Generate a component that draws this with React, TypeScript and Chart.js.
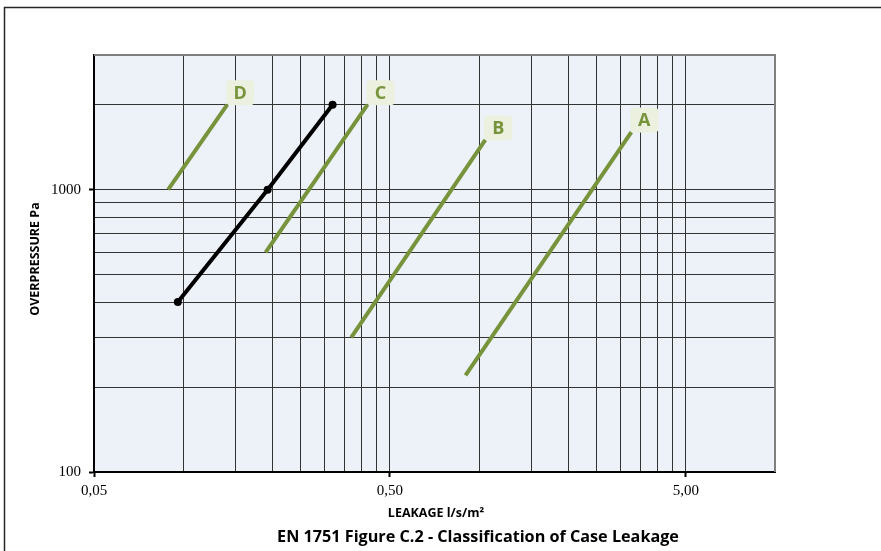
import React, { useEffect, useRef } from 'react';
import { Chart, registerables } from 'chart.js';

Chart.register(...registerables);

// ---- data ----
const classNames = ['A', 'B', 'C', 'D'];
const classALeakage = [0.9, 3.27];
const classAPressure = [220, 1600];
const classBLeakage = [0.37, 1.05];
const classBPressure = [300, 1500];
const classCLeakage = [0.19, 0.42];
const classCPressure = [600, 2000];
const classDLeakage = [0.089, 0.141];
const classDPressure = [1000, 2000];
const measuredLeakage = [0.096, 0.193, 0.32];
const measuredPressure = [400, 1000, 2000];

const xGridValues = [0.05, 0.1, 0.15, 0.2, 0.25, 0.3, 0.35, 0.4, 0.45, 0.5, 1, 1.5, 2, 2.5, 3, 3.5, 4, 4.5, 5, 10];
const xTickValues = [0.05, 0.5, 5];
const xTickLabels = ['0,05', '0,50', '5,00'];
const yGridValues = [100, 200, 300, 400, 500, 600, 700, 800, 900, 1000, 2000, 3000];
const yTickValues = [100, 1000];
const yTickLabels = ['100', '1000'];

const xTitle = 'LEAKAGE l/s/m²';
const yTitle = 'OVERPRESSURE Pa';
const chartTitle = 'EN 1751 Figure C.2 - Classification of Case Leakage';

const GREEN = '#77933C';
const SANS = '"Open Sans", "Noto Sans", sans-serif';
const SERIF = '"Liberation Serif", "Times New Roman", serif';

const toPoints = (xs: number[], ys: number[]) => xs.map((x, i) => ({ x, y: ys[i] }));

export default function App() {
  const ref = useRef<HTMLCanvasElement | null>(null);

  useEffect(() => {
    document.body.style.margin = '0';
    const canvas = ref.current;
    if (!canvas) return;

    const classSeries = [
      toPoints(classALeakage, classAPressure),
      toPoints(classBLeakage, classBPressure),
      toPoints(classCLeakage, classCPressure),
      toPoints(classDLeakage, classDPressure),
    ];

    const decorPlugin = {
      id: 'decor',
      beforeDraw(chart: any) {
        const { ctx, chartArea: a } = chart;
        ctx.save();
        ctx.fillStyle = '#ffffff';
        ctx.fillRect(0, 0, chart.width, chart.height);
        ctx.fillStyle = '#EDF1F8';
        ctx.fillRect(a.left, a.top, a.right - a.left, a.bottom - a.top);
        ctx.restore();
      },
      afterDraw(chart: any) {
        const { ctx, chartArea: a } = chart;
        ctx.save();
        // top & right plot border
        ctx.strokeStyle = '#7f7f7f';
        ctx.lineWidth = 2;
        ctx.beginPath();
        ctx.moveTo(a.left, a.top);
        ctx.lineTo(a.right, a.top);
        ctx.lineTo(a.right, a.bottom);
        ctx.stroke();
        // outer frame (only top & left visible)
        ctx.strokeStyle = '#262626';
        ctx.lineWidth = 1.5;
        ctx.beginPath();
        ctx.moveTo(4.5, chart.height);
        ctx.lineTo(4.5, 7.5);
        ctx.lineTo(chart.width, 7.5);
        ctx.stroke();

        // class labels
        for (let i = 0; i < classNames.length; i++) {
          const meta = chart.getDatasetMeta(i);
          const pt = meta.data[meta.data.length - 1];
          const cx = pt.x + 13;
          const cy = pt.y - 12;
          const w = 28;
          const h = 25;
          ctx.fillStyle = '#EBF1DE';
          ctx.beginPath();
          (ctx as any).roundRect(cx - w / 2, cy - h / 2, w, h, 4);
          ctx.fill();
          ctx.fillStyle = GREEN;
          ctx.font = `bold 18px ${SANS}`;
          ctx.textAlign = 'center';
          ctx.textBaseline = 'middle';
          ctx.fillText(classNames[i], cx, cy + 1);
        }

        // titles
        ctx.fillStyle = '#000';
        ctx.textAlign = 'center';
        ctx.textBaseline = 'middle';
        ctx.font = `bold 12.5px ${SANS}`;
        ctx.fillText(xTitle, 436, 513);
        ctx.save();
        ctx.translate(35, 259);
        ctx.rotate(-Math.PI / 2);
        ctx.fillText(yTitle, 0, 0);
        ctx.restore();
        ctx.font = `bold 16.2px ${SANS}`;
        ctx.fillText(chartTitle, 478, 537);
        ctx.restore();
      },
    };

    const chart = new Chart(canvas, {
      type: 'line',
      data: {
        datasets: [
          ...classSeries.map((d, i) => ({
            label: classNames[i],
            data: d,
            borderColor: GREEN,
            backgroundColor: GREEN,
            borderWidth: 4,
            pointRadius: 0,
            pointHoverRadius: 0,
            fill: false,
          })),
          {
            label: 'Measured',
            data: toPoints(measuredLeakage, measuredPressure),
            borderColor: '#000',
            backgroundColor: '#000',
            borderWidth: 4,
            pointRadius: 4,
            pointBackgroundColor: '#000',
            pointBorderWidth: 0,
            fill: false,
          },
        ],
      },
      options: {
        responsive: false,
        animation: false,
        events: [],
        layout: { padding: { top: 55, right: 106, left: 0, bottom: 0 } },
        plugins: { legend: { display: false }, tooltip: { enabled: false }, title: { display: false } },
        scales: {
          x: {
            type: 'logarithmic',
            min: 0.05,
            max: 10,
            afterBuildTicks: (s: any) => {
              s.ticks = xGridValues.map((v) => ({ value: v }));
            },
            afterFit: (s: any) => {
              s.height = 79;
            },
            ticks: {
              autoSkip: false,
              maxRotation: 0,
              padding: 5,
              color: '#000',
              font: { family: SERIF, size: 15 },
              callback: (v: any) => {
                const i = xTickValues.indexOf(Number(v));
                return i >= 0 ? xTickLabels[i] : '';
              },
            },
            grid: {
              color: '#333333',
              lineWidth: 1,
              tickLength: 5,
              tickWidth: 2,
              tickColor: (c: any) => (c.tick && xTickValues.indexOf(c.tick.value) >= 0 ? '#000' : 'rgba(0,0,0,0)'),
            },
            border: { display: true, color: '#000', width: 2 },
          },
          y: {
            type: 'logarithmic',
            min: 100,
            max: 3000,
            afterBuildTicks: (s: any) => {
              s.ticks = yGridValues.map((v) => ({ value: v }));
            },
            afterFit: (s: any) => {
              s.width = 94;
            },
            ticks: {
              autoSkip: false,
              padding: 8,
              color: '#000',
              font: { family: SERIF, size: 15 },
              callback: (v: any) => {
                const i = yTickValues.indexOf(Number(v));
                return i >= 0 ? yTickLabels[i] : '';
              },
            },
            grid: {
              color: '#333333',
              lineWidth: 1,
              tickLength: 5,
              tickWidth: 2,
              tickColor: (c: any) => (c.tick && yTickValues.indexOf(c.tick.value) >= 0 ? '#000' : 'rgba(0,0,0,0)'),
            },
            border: { display: true, color: '#000', width: 2 },
          },
        },
      },
      plugins: [decorPlugin],
    } as any);

    return () => chart.destroy();
  }, []);

  return <canvas ref={ref} width={881} height={551} style={{ display: 'block' }} />;
}
